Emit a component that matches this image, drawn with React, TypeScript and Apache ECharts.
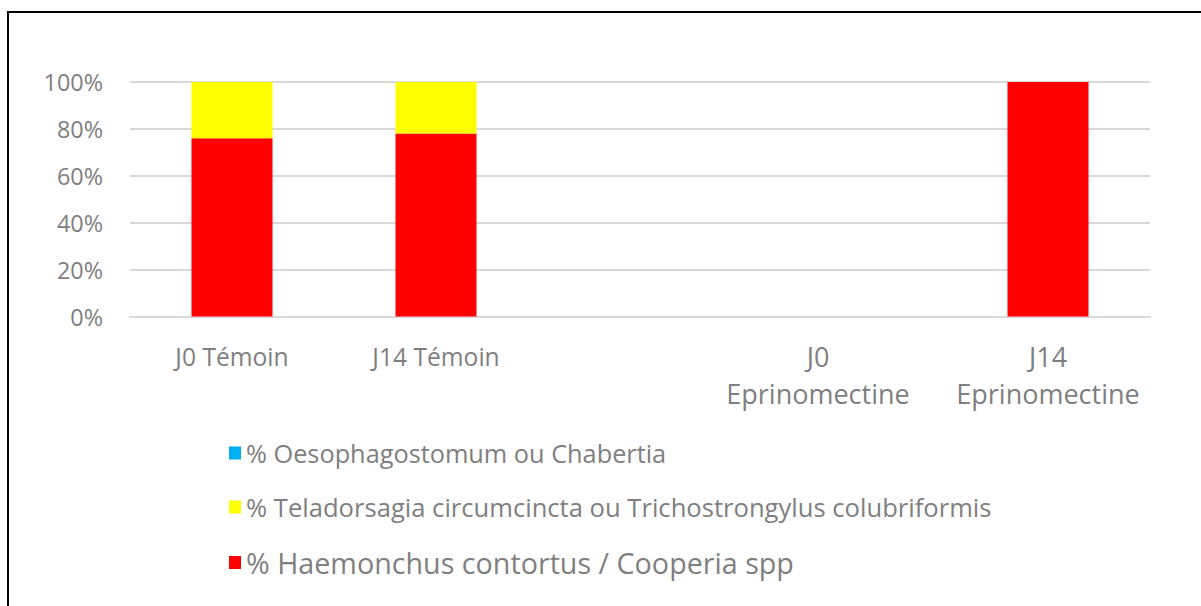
import React, { useEffect, useRef } from "react";
import * as echarts from "echarts";

const categories = ["J0 Témoin", "J14 Témoin", "", "J0\nEprinomectine", "J14\nEprinomectine"];
const seriesNames = [
  "% Oesophagostomum ou Chabertia",
  "% Teladorsagia circumcincta ou Trichostrongylus colubriformis",
  "% Haemonchus contortus / Cooperia spp",
];
const haemonchus = [76, 78, null, null, 100];
const teladorsagia = [24, 22, null, null, 0];
const oesophagostomum = [0, 0, null, null, 0];
const yTicks = { min: 0, max: 100, interval: 20 };

const FONT = "'Open Sans', 'DejaVu Sans', sans-serif";
const GREY = "#7f7f7f";

export default function App() {
  const ref = useRef<HTMLDivElement>(null);
  useEffect(() => {
    if (!ref.current) return;
    const chart = echarts.init(ref.current, null, { renderer: "svg" });
    chart.setOption({
      animation: false,
      textStyle: { fontFamily: FONT },
      grid: { left: 130, right: 51, top: 82, bottom: 289.5 },
      legend: {
        orient: "vertical",
        left: 229,
        top: 440,
        padding: 0,
        itemWidth: 12,
        itemHeight: 13,
        itemGap: 28,
        icon: "rect",
        data: [
          { name: seriesNames[0], textStyle: { fontSize: 25.3 } },
          { name: seriesNames[1], textStyle: { fontSize: 25.6 } },
          { name: seriesNames[2], textStyle: { fontSize: 28.7 } },
        ],
        textStyle: { fontFamily: FONT, fontSize: 26, color: GREY, lineHeight: 26 },
      },
      xAxis: {
        type: "category",
        data: categories.map((c, i) =>
          i === 3
            ? { value: c, textStyle: { fontSize: 27, padding: [0, 52, 0, 0] } }
            : i === 4
            ? { value: c, textStyle: { fontSize: 27 } }
            : c
        ),
        axisTick: { show: false },
        axisLine: { lineStyle: { color: "#d9d9d9", width: 2 } },
        axisLabel: {
          interval: 0,
          margin: 21,
          fontFamily: FONT,
          fontSize: 24.6,
          lineHeight: 37,
          color: GREY,
        },
      },
      yAxis: {
        type: "value",
        min: yTicks.min,
        max: yTicks.max,
        interval: yTicks.interval,
        axisLine: { show: false },
        axisTick: { show: false },
        splitLine: { lineStyle: { color: "#d9d9d9", width: 2 } },
        axisLabel: {
          formatter: "{value}%",
          margin: 27,
          fontFamily: FONT,
          fontSize: 23.4,
          color: GREY,
        },
      },
      series: [
        {
          name: seriesNames[2],
          type: "bar",
          stack: "total",
          barWidth: 81,
          data: haemonchus,
          itemStyle: { color: "#ff0000" },
        },
        {
          name: seriesNames[1],
          type: "bar",
          stack: "total",
          barWidth: 81,
          data: teladorsagia,
          itemStyle: { color: "#ffff00" },
        },
        {
          name: seriesNames[0],
          type: "bar",
          stack: "total",
          barWidth: 81,
          data: oesophagostomum,
          itemStyle: { color: "#00b0f0" },
        },
      ],
    });
    return () => chart.dispose();
  }, []);
  return (
    <div>
      <div
        style={{
          position: "absolute",
          left: 7,
          top: 11,
          width: 1194,
          height: 595,
          borderTop: "2px solid #000",
          borderLeft: "2px solid #000",
          boxSizing: "border-box",
        }}
      />
      <div
        ref={ref}
        style={{ position: "absolute", left: 0, top: 0, width: 1201, height: 606 }}
      />
    </div>
  );
}
